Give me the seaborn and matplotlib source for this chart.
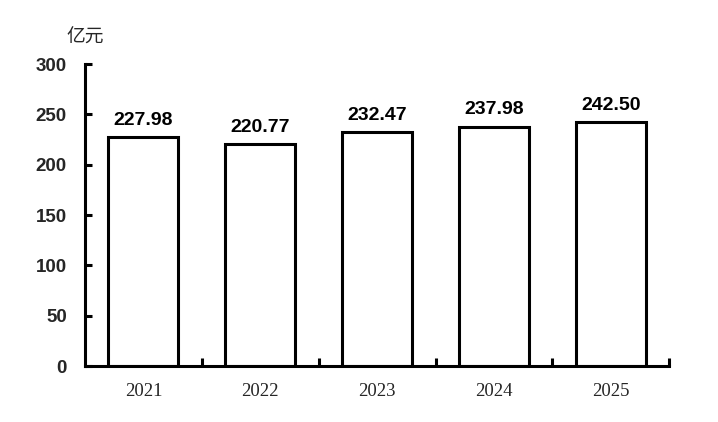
import matplotlib
matplotlib.use("Agg")
import matplotlib.pyplot as plt
import seaborn as sns
import pandas as pd

# 数据
years = ["2021", "2022", "2023", "2024", "2025"]
values = [227.98, 220.77, 232.47, 237.98, 242.50]
yticks = [0, 50, 100, 150, 200, 250, 300]

df = pd.DataFrame({"year": years, "value": values})

sns.set_style("white")
plt.rcParams['font.family'] = ['Liberation Sans', 'Noto Sans CJK SC', 'DejaVu Sans']

fig = plt.figure(figsize=(7.18, 4.22), dpi=100)
ax = fig.add_axes([0.1184, 0.1327, 0.8136, 0.7153])

sns.barplot(data=df, x="year", y="value", color="white", edgecolor="black",
            linewidth=2.2, width=0.6, ax=ax, zorder=2)

for i, v in enumerate(values):
    ax.text(i, v + 8, f"{v:.2f}", ha="center", va="bottom",
            fontsize=14, fontweight="bold", color="black")

ax.set_ylim(0, 300)
ax.set_xlim(-0.5, 4.5)
ax.set_yticks(yticks)
ax.set_yticklabels([str(t) for t in yticks], fontsize=13.5, fontweight="bold")

# x 轴：类别标签居中，刻度在类别边界
ax.set_xticks(range(len(years)))
ax.set_xticklabels(years, fontsize=13.5, family=['Liberation Serif', 'DejaVu Serif'])
ax.tick_params(axis='x', which='major', bottom=True, length=0, pad=12)
ax.set_xticks([i + 0.5 for i in range(len(years))], minor=True)
ax.tick_params(axis='x', which='minor', bottom=True, direction='in', length=6, width=2.2, color='black')
ax.tick_params(axis='y', left=True, direction='in', length=5, width=2.2, color='black', pad=13)

for s in ["top", "right"]:
    ax.spines[s].set_visible(False)
for s in ["left", "bottom"]:
    ax.spines[s].set_linewidth(2.2)
    ax.spines[s].set_color("black")

ax.set_xlabel("")
ax.set_ylabel("")
fig.text(0.093, 0.912, "亿元", fontsize=13.5, family=['Noto Sans CJK SC', 'DejaVu Sans'],
         ha="left", va="center")

fig.savefig("out.png", dpi=100, facecolor="white")
